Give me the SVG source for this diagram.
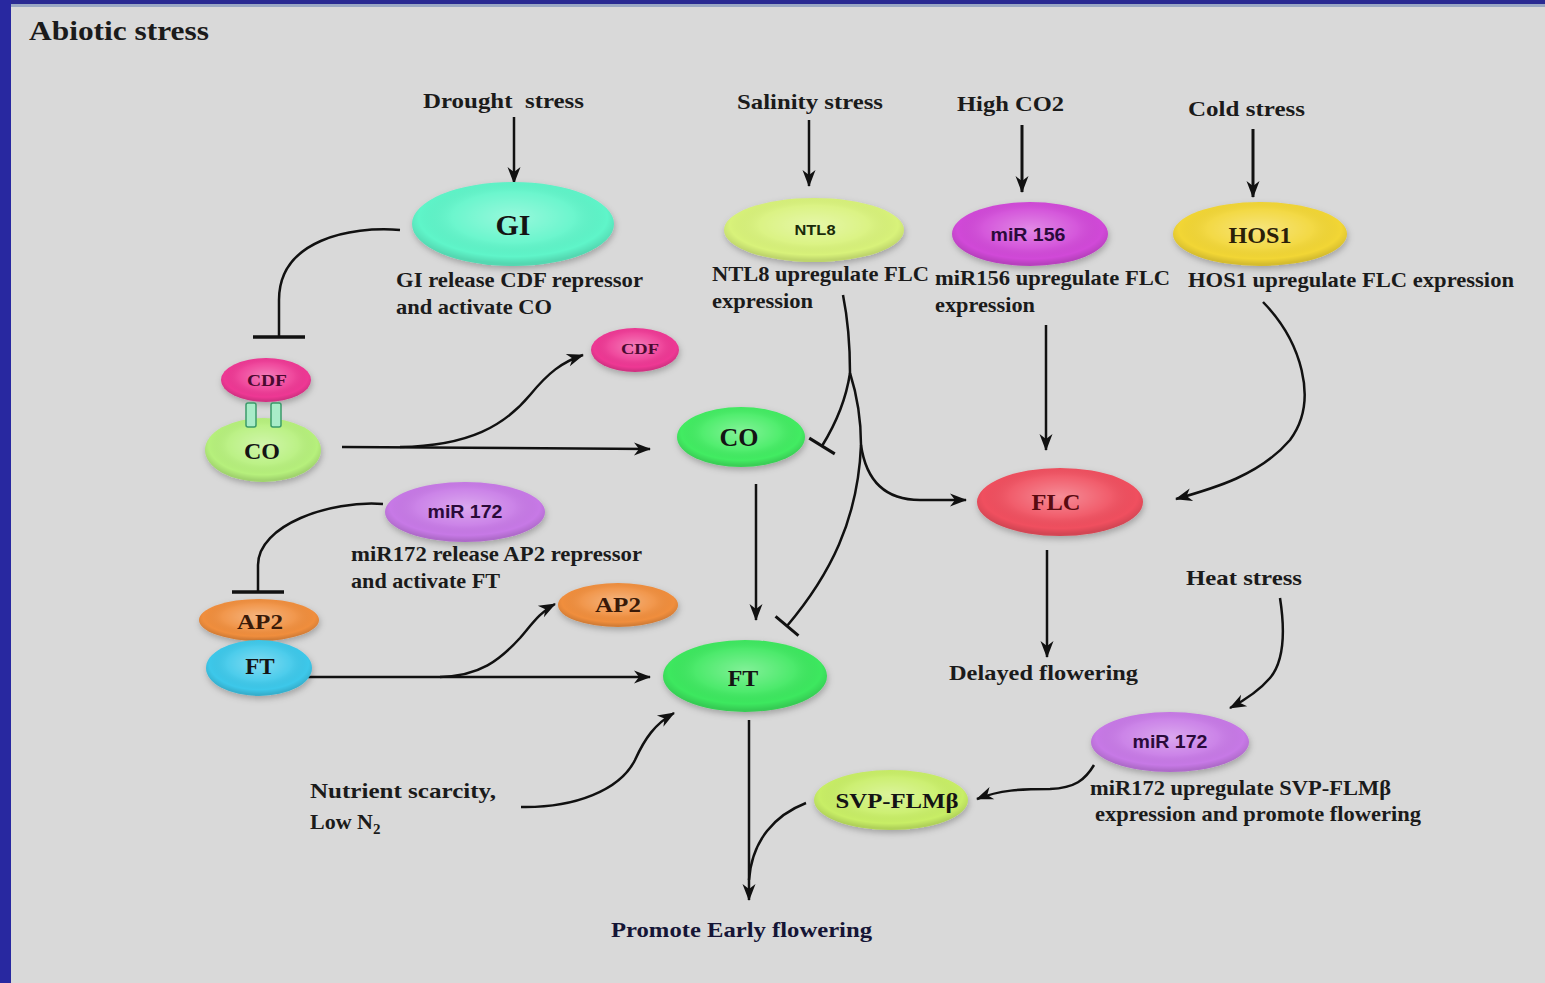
<svg xmlns="http://www.w3.org/2000/svg" width="1545" height="983" viewBox="0 0 1545 983">
<style>
.lbl{font-family:"Liberation Serif","Times New Roman",serif;font-weight:bold;font-size:21px;fill:#1b1b1b}
.ttl{font-family:"Liberation Serif","Times New Roman",serif;font-weight:bold;font-size:28px;fill:#1b1b1b}
.nt{font-family:"Liberation Serif","Times New Roman",serif;font-weight:bold;text-anchor:middle;fill:#141414}
.ns{font-family:"Liberation Sans","Open Sans",Arial,sans-serif;font-weight:bold;text-anchor:middle;fill:#2a0a3a}
.ln{fill:none;stroke:#111;stroke-width:2.5}
.arr{marker-end:url(#ah)}
.gl{fill:url(#gloss)}
.node ellipse.b{filter:url(#sh)}
.lk{fill:#a8ecc8;stroke:#3a9a6a;stroke-width:1.5}
</style>
<defs>
<marker id="ah" markerUnits="userSpaceOnUse" markerWidth="18" markerHeight="14" refX="16" refY="6.5" orient="auto" overflow="visible">
<path d="M0,0 L17,6.5 L0,13 L5,6.5 Z" fill="#111"/>
</marker>
<marker id="teeL" markerUnits="userSpaceOnUse" markerWidth="6" markerHeight="52" refX="3" refY="26" orient="auto" overflow="visible">
<path d="M3,0 L3,52" stroke="#111" stroke-width="3.5"/>
</marker>
<marker id="teeS" markerUnits="userSpaceOnUse" markerWidth="6" markerHeight="30" refX="3" refY="15" orient="auto" overflow="visible">
<path d="M3,0 L3,30" stroke="#111" stroke-width="3"/>
</marker>
<radialGradient id="gloss" cx="50%" cy="42%" r="55%">
<stop offset="0" stop-color="#fff" stop-opacity="0.35"/>
<stop offset="0.55" stop-color="#fff" stop-opacity="0.08"/>
<stop offset="0.85" stop-color="#000" stop-opacity="0"/>
<stop offset="1" stop-color="#000" stop-opacity="0.12"/>
</radialGradient>
<filter id="sh" x="-20%" y="-20%" width="140%" height="150%">
<feDropShadow dx="1" dy="3" stdDeviation="3" flood-color="#000" flood-opacity="0.25"/>
</filter>
</defs>

<rect x="0" y="0" width="1545" height="983" fill="#d9d9d9"/>
<rect x="0" y="0" width="1545" height="4" fill="#2a2a92"/>
<rect x="0" y="4" width="1545" height="3" fill="#9aa8c4"/>
<rect x="0" y="0" width="11" height="983" fill="#2828a0"/>

<text class="ttl" x="29" y="40" textLength="180" lengthAdjust="spacingAndGlyphs">Abiotic stress</text>

<g id="labels">
<text class="lbl" x="423" y="108" textLength="161" lengthAdjust="spacingAndGlyphs" xml:space="preserve">Drought  stress</text>
<text class="lbl" x="737" y="109" textLength="146" lengthAdjust="spacingAndGlyphs">Salinity stress</text>
<text class="lbl" x="957" y="111" textLength="107" lengthAdjust="spacingAndGlyphs">High CO2</text>
<text class="lbl" x="1188" y="116" textLength="117" lengthAdjust="spacingAndGlyphs">Cold stress</text>
<text class="lbl" x="1186" y="585" textLength="116" lengthAdjust="spacingAndGlyphs">Heat stress</text>
<text class="lbl" x="396" y="287" textLength="247" lengthAdjust="spacingAndGlyphs">GI release CDF repressor</text>
<text class="lbl" x="396" y="314" textLength="156" lengthAdjust="spacingAndGlyphs">and activate CO</text>
<text class="lbl" x="712" y="281" textLength="217" lengthAdjust="spacingAndGlyphs">NTL8 upregulate FLC</text>
<text class="lbl" x="712" y="308" textLength="101" lengthAdjust="spacingAndGlyphs">expression</text>
<text class="lbl" x="935" y="285" textLength="235" lengthAdjust="spacingAndGlyphs">miR156 upregulate FLC</text>
<text class="lbl" x="935" y="312" textLength="100" lengthAdjust="spacingAndGlyphs">expression</text>
<text class="lbl" x="1188" y="287" textLength="326" lengthAdjust="spacingAndGlyphs">HOS1 upregulate FLC expression</text>
<text class="lbl" x="351" y="561" textLength="291" lengthAdjust="spacingAndGlyphs">miR172 release AP2 repressor</text>
<text class="lbl" x="351" y="588" textLength="149" lengthAdjust="spacingAndGlyphs">and activate FT</text>
<text class="lbl" x="310" y="798" textLength="186" lengthAdjust="spacingAndGlyphs">Nutrient scarcity,</text>
<text class="lbl" x="310" y="829" style="font-size:22px">Low N<tspan font-size="15" dy="5">2</tspan></text>
<text class="lbl" x="949" y="680" textLength="189" lengthAdjust="spacingAndGlyphs">Delayed flowering</text>
<text class="lbl" x="1090" y="795" textLength="301" lengthAdjust="spacingAndGlyphs">miR172 upregulate SVP-FLMβ</text>
<text class="lbl" x="1095" y="821" textLength="326" lengthAdjust="spacingAndGlyphs">expression and promote flowering</text>
<text class="lbl" x="611" y="937" textLength="261" lengthAdjust="spacingAndGlyphs" style="fill:#151536">Promote Early flowering</text>
</g>

<g id="connectors">
<path class="ln arr" d="M514,117 L514,183"/>
<path class="ln arr" d="M809,120 L809,186"/>
<path class="ln arr" style="stroke-width:3" d="M1022,125 L1022,192"/>
<path class="ln arr" style="stroke-width:3" d="M1253,129 L1253,197"/>
<path class="ln" style="marker-end:url(#teeL)" d="M400,230 C350,226 279,240 279,300 L279,337"/>
<path class="ln arr" d="M342,447 L650,449"/>
<path class="ln arr" d="M400,447 C470,446 505,425 530,395 C548,373 562,362 583,355"/>
<path class="ln arr" d="M756,484 L756,620"/>
<path class="ln" style="marker-end:url(#teeL)" d="M383,504 C330,500 258,525 258,565 L258,592"/>
<path class="ln arr" d="M308,677 L650,677"/>
<path class="ln arr" d="M440,677 C480,676 500,660 520,638 C532,624 540,612 555,604"/>
<path class="ln arr" d="M521,807 C575,808 620,790 635,760 C645,738 655,724 674,713"/>
<path class="ln arr" d="M749,720 L749,900"/>
<path class="ln" d="M806,803 C775,815 752,840 749,880"/>
<path class="ln arr" d="M1046,325 L1046,450"/>
<path class="ln arr" d="M1263,302 C1300,340 1320,400 1290,440 C1260,475 1215,488 1176,499"/>
<path class="ln" d="M843,295 C848,320 850,345 850,373 C857,395 861,420 861,445"/>
<path class="ln" style="marker-end:url(#teeS)" d="M850,373 C846,400 835,425 822,446"/>
<path class="ln arr" d="M861,445 C866,480 885,500 920,500 L966,500"/>
<path class="ln" style="marker-end:url(#teeS)" d="M861,445 C858,520 830,575 787,626"/>
<path class="ln arr" d="M1047,550 L1047,657"/>
<path class="ln arr" d="M1280,598 C1285,630 1285,660 1270,678 C1258,692 1245,700 1230,708"/>
<path class="ln arr" d="M1094,765 C1085,780 1075,788 1050,789 C1020,789 1000,790 977,799"/>
</g>

<g id="gi" class="node">
<ellipse class="b" cx="513" cy="224" rx="101" ry="42" fill="#5ef5c9"/>
<ellipse class="gl" cx="513" cy="224" rx="101" ry="42"/>
<text class="nt" x="513" y="235" font-size="30">GI</text>
</g>
<g id="cdf-bound" class="node">
<ellipse class="b" cx="266" cy="380" rx="45" ry="22" fill="#ee3894"/>
<ellipse class="gl" cx="266" cy="380" rx="45" ry="22"/>
<text class="nt" x="267" y="386" font-size="16" textLength="40" lengthAdjust="spacingAndGlyphs" style="fill:#4a0a30">CDF</text>
</g>
<g id="co-bound" class="node">
<ellipse class="b" cx="263" cy="450" rx="58" ry="32" fill="#b6f07c"/>
<ellipse class="gl" cx="263" cy="450" rx="58" ry="32"/>
<text class="nt" x="262" y="459" font-size="24">CO</text>
</g>
<g id="cdf-co-link">
<rect class="lk" x="246" y="403" width="10" height="24" rx="2"/>
<rect class="lk" x="271" y="403" width="10" height="24" rx="2"/>
</g>
<g id="cdf-free" class="node">
<ellipse class="b" cx="635" cy="350" rx="44" ry="22" fill="#ee3894"/>
<ellipse class="gl" cx="635" cy="350" rx="44" ry="22"/>
<text class="nt" x="640" y="354" font-size="15" textLength="38" lengthAdjust="spacingAndGlyphs" style="fill:#4a0a30">CDF</text>
</g>
<g id="co" class="node">
<ellipse class="b" cx="741" cy="437" rx="64" ry="30" fill="#42ec62"/>
<ellipse class="gl" cx="741" cy="437" rx="64" ry="30"/>
<text class="nt" x="739" y="446" font-size="26">CO</text>
</g>
<g id="mir172-left" class="node">
<ellipse class="b" cx="465" cy="512" rx="80" ry="30" fill="#c779e6"/>
<ellipse class="gl" cx="465" cy="512" rx="80" ry="30"/>
<text class="ns" x="465" y="518" font-size="18" textLength="75" lengthAdjust="spacingAndGlyphs">miR 172</text>
</g>
<g id="ap2-bound" class="node">
<ellipse class="b" cx="259" cy="620" rx="60" ry="21" fill="#f08e3e"/>
<ellipse class="gl" cx="259" cy="620" rx="60" ry="21"/>
<text class="nt" x="260" y="629" font-size="22" textLength="46" lengthAdjust="spacingAndGlyphs" style="fill:#3a1a08">AP2</text>
</g>
<g id="ft-bound" class="node">
<ellipse class="b" cx="259" cy="668" rx="53" ry="28" fill="#3ec8ea"/>
<ellipse class="gl" cx="259" cy="668" rx="53" ry="28"/>
<text class="nt" x="260" y="674" font-size="23">FT</text>
</g>
<g id="ap2-free" class="node">
<ellipse class="b" cx="618" cy="605" rx="60" ry="22" fill="#f08e3e"/>
<ellipse class="gl" cx="618" cy="605" rx="60" ry="22"/>
<text class="nt" x="618" y="612" font-size="22" textLength="46" lengthAdjust="spacingAndGlyphs" style="fill:#3a1a08">AP2</text>
</g>
<g id="ft" class="node">
<ellipse class="b" cx="745" cy="676" rx="82" ry="36" fill="#3ee85e"/>
<ellipse class="gl" cx="745" cy="676" rx="82" ry="36"/>
<text class="nt" x="743" y="686" font-size="24">FT</text>
</g>
<g id="svp-flm" class="node">
<ellipse class="b" cx="891" cy="800" rx="77" ry="30" fill="#c8ee66"/>
<ellipse class="gl" cx="891" cy="800" rx="77" ry="30"/>
<text class="nt" x="897" y="808" font-size="22" textLength="123" lengthAdjust="spacingAndGlyphs">SVP-FLMβ</text>
</g>
<g id="ntl8" class="node">
<ellipse class="b" cx="814" cy="230" rx="90" ry="32" fill="#d8f27a"/>
<ellipse class="gl" cx="814" cy="230" rx="90" ry="32"/>
<text class="ns" x="815" y="235" font-size="15" textLength="41" lengthAdjust="spacingAndGlyphs" style="fill:#1a2a08">NTL8</text>
</g>
<g id="mir156" class="node">
<ellipse class="b" cx="1030" cy="234" rx="78" ry="32" fill="#d14ad8"/>
<ellipse class="gl" cx="1030" cy="234" rx="78" ry="32"/>
<text class="ns" x="1028" y="241" font-size="18" textLength="75" lengthAdjust="spacingAndGlyphs">miR 156</text>
</g>
<g id="hos1" class="node">
<ellipse class="b" cx="1260" cy="234" rx="87" ry="32" fill="#f2d634"/>
<ellipse class="gl" cx="1260" cy="234" rx="87" ry="32"/>
<text class="nt" x="1260" y="243" font-size="24" textLength="63" lengthAdjust="spacingAndGlyphs" style="fill:#2a2008">HOS1</text>
</g>
<g id="flc" class="node">
<ellipse class="b" cx="1060" cy="502" rx="83" ry="34" fill="#f0505e"/>
<ellipse class="gl" cx="1060" cy="502" rx="83" ry="34"/>
<text class="nt" x="1056" y="510" font-size="24" textLength="49" lengthAdjust="spacingAndGlyphs" style="fill:#5a0a10">FLC</text>
</g>
<g id="mir172-right" class="node">
<ellipse class="b" cx="1170" cy="742" rx="79" ry="30" fill="#c779e6"/>
<ellipse class="gl" cx="1170" cy="742" rx="79" ry="30"/>
<text class="ns" x="1170" y="748" font-size="18" textLength="75" lengthAdjust="spacingAndGlyphs">miR 172</text>
</g>
</svg>
